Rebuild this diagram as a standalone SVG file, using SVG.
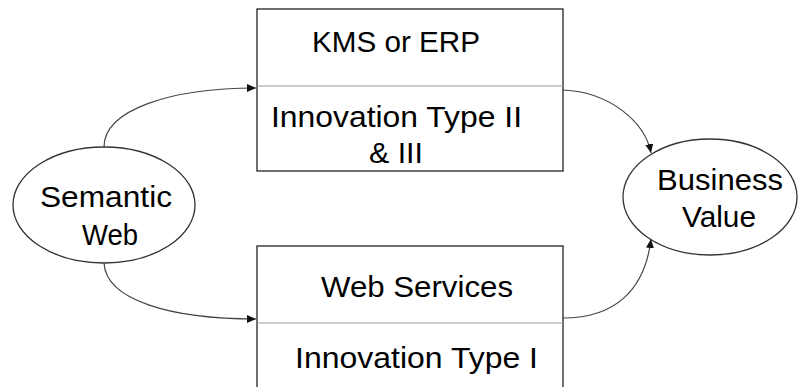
<svg xmlns="http://www.w3.org/2000/svg" width="798" height="387" viewBox="0 0 798 387">
<style>
.box{fill:#fff;stroke:#222;stroke-width:1.3}
.div{stroke:#999;stroke-width:1.2}
.ell{fill:#fff;stroke:#333;stroke-width:1.3}
.t{font-family:"Liberation Sans",Arial,sans-serif;font-size:29px;fill:#000;text-anchor:middle}
.c{fill:none;stroke:#444;stroke-width:1.2;marker-end:url(#ah)}
</style>
<defs>
<marker id="ah" markerWidth="10" markerHeight="8" refX="9" refY="4" orient="auto" markerUnits="userSpaceOnUse">
<path d="M0,0 L9,4 L0,8 z" fill="#111"/>
</marker>
</defs>
<rect width="798" height="387" fill="#fff"/>
<g id="connectors">
<path class="c" d="M104,147 C104,110 170,88 256,88"/>
<path class="c" d="M104,263 C106,300 170,319 256,319"/>
<path class="c" d="M563,90 C610,92 645,122 651,153"/>
<path class="c" d="M563,318 C615,318 645,290 651,239"/>
</g>
<g id="kms">
<rect class="box" x="257" y="9" width="306" height="162"/>
<line class="div" x1="257" y1="86" x2="563" y2="86"/>
<text class="t" x="396" y="52" textLength="168" lengthAdjust="spacingAndGlyphs">KMS or ERP</text>
<text class="t" x="396.5" y="127" textLength="251" lengthAdjust="spacingAndGlyphs">Innovation Type II</text>
<text class="t" x="396" y="163" textLength="54" lengthAdjust="spacingAndGlyphs">&amp; III</text>
</g>
<g id="ws">
<rect class="box" x="257" y="246" width="306" height="150"/>
<line class="div" x1="257" y1="323" x2="563" y2="323"/>
<text class="t" x="417" y="297" textLength="192" lengthAdjust="spacingAndGlyphs">Web Services</text>
<text class="t" x="416.5" y="368" textLength="243" lengthAdjust="spacingAndGlyphs">Innovation Type I</text>
</g>
<g id="semantic">
<ellipse class="ell" cx="104" cy="205" rx="91" ry="58"/>
<text class="t" x="106" y="207" textLength="132" lengthAdjust="spacingAndGlyphs">Semantic</text>
<text class="t" x="110" y="245" textLength="56" lengthAdjust="spacingAndGlyphs">Web</text>
</g>
<g id="business">
<ellipse class="ell" cx="710" cy="197" rx="87" ry="58"/>
<text class="t" x="720" y="190" textLength="126" lengthAdjust="spacingAndGlyphs">Business</text>
<text class="t" x="719" y="227" textLength="74" lengthAdjust="spacingAndGlyphs">Value</text>
</g>
</svg>
